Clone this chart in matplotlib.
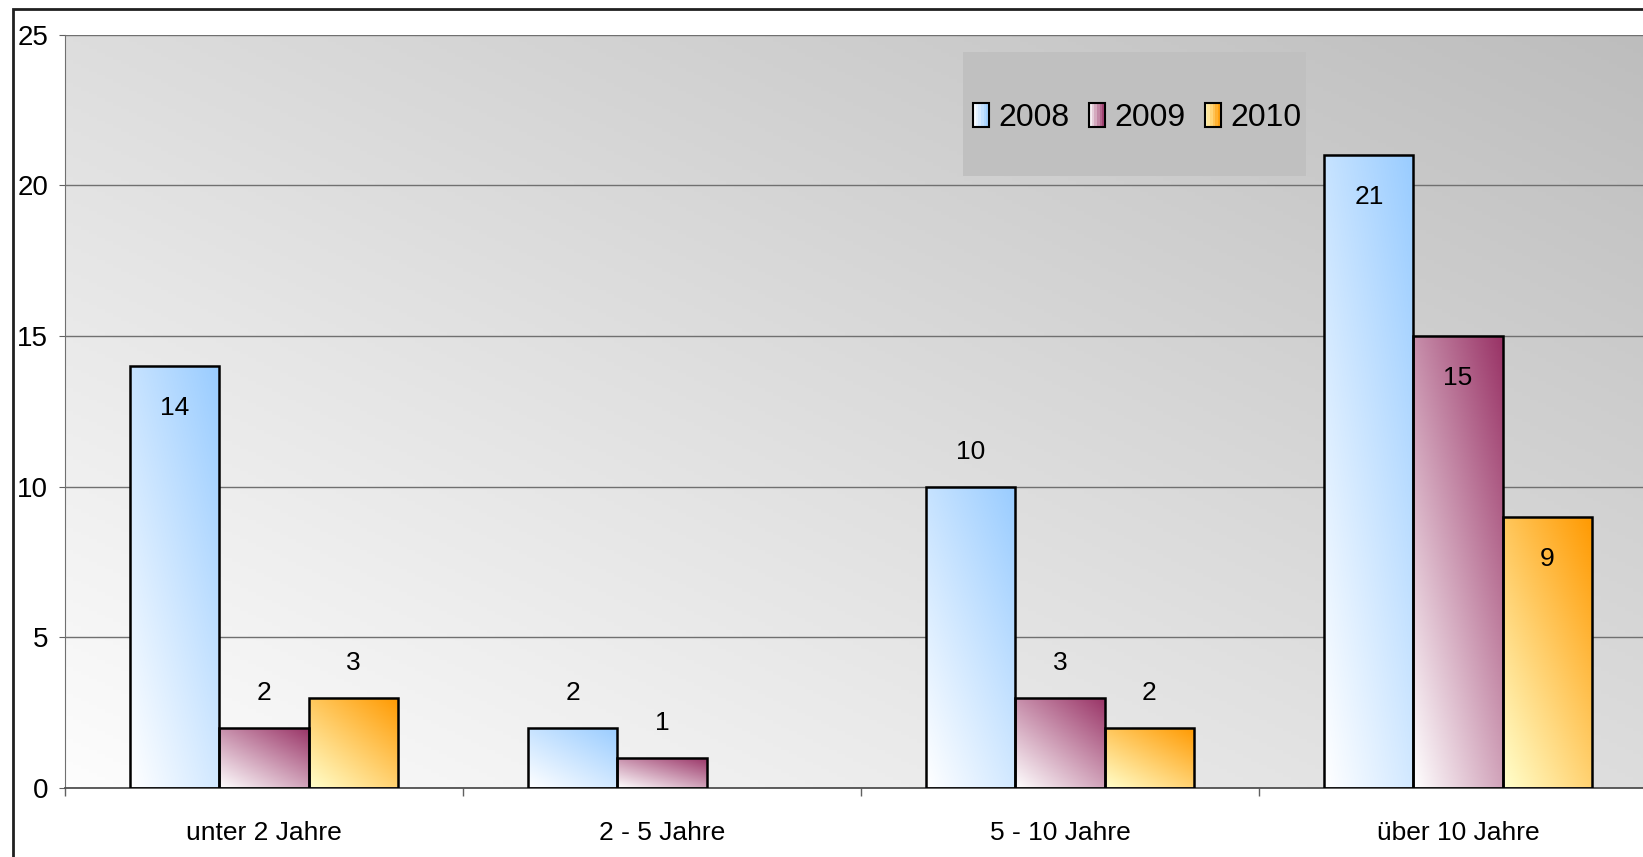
import numpy as np
import matplotlib
matplotlib.use("Agg")
import matplotlib.pyplot as plt
from matplotlib.colors import LinearSegmentedColormap
from matplotlib.patches import Rectangle
from matplotlib.legend_handler import HandlerBase

plt.rcParams['font.family'] = ['Liberation Sans', 'DejaVu Sans']

# Data
categories = ['unter 2 Jahre', '2 - 5 Jahre', '5 - 10 Jahre', 'über 10 Jahre']
years = ['2008', '2009', '2010']
values_2008 = [14, 2, 10, 21]
values_2009 = [2, 1, 3, 15]
values_2010 = [3, 0, 2, 9]
inside_labels = {14, 21, 15, 9}

series = [values_2008, values_2009, values_2010]
light = ['#ffffff', '#ffffff', '#ffffcc']
dark = ['#99ccff', '#993366', '#ff9900']
cmaps = [LinearSegmentedColormap.from_list(f'g{i}', [light[i], dark[i]]) for i in range(3)]

fig = plt.figure(figsize=(16.43, 8.57), dpi=100)
ax = fig.add_axes([65 / 1643, 1 - 788 / 857, 1592 / 1643, (788 - 34.6) / 857])

# grey background, light bottom-left to darker top-right
u, v = np.meshgrid(np.linspace(0, 1, 200), np.linspace(0, 1, 200))
bg = LinearSegmentedColormap.from_list('bg', ['#fdfdfd', '#bdbdbd'])
ax.imshow((u + v) / 2, cmap=bg, origin='lower', extent=[0, 1, 0, 1],
          transform=ax.transAxes, aspect='auto', zorder=0)

width = 0.224
x = np.arange(len(categories))
for i, vals in enumerate(series):
    bars = ax.bar(x + (i - 1) * width, vals, width, facecolor='none',
                  edgecolor='black', linewidth=1.8, zorder=3)
    for b, val in zip(bars, vals):
        if val == 0:
            b.set_linewidth(0)
            continue
        x0, w, h = b.get_x(), b.get_width(), b.get_height()
        g = 0.45 * u + 0.55 * v
        im = ax.imshow(g, cmap=cmaps[i], origin='lower', aspect='auto',
                       extent=[x0, x0 + w, 0, h], zorder=2, vmin=0, vmax=1)
        im.set_clip_path(b)
        cx = x0 + w / 2
        if val in inside_labels:
            ax.text(cx, val - 1.4, str(val), ha='center', va='center', fontsize=19, zorder=4)
        else:
            ax.text(cx, val + 1.15, str(val), ha='center', va='center', fontsize=19, zorder=4)

ax.set_xlim(-0.5, 3.5)
ax.set_ylim(0, 25)
ax.set_yticks([0, 5, 10, 15, 20, 25])
ax.yaxis.grid(True, color='#707070', linewidth=1)
ax.set_xticks([-0.5, 0.5, 1.5, 2.5, 3.5])
ax.set_xticklabels([])
ax.set_xticks(x, minor=True)
ax.set_xticklabels(categories, minor=True)
ax.tick_params(axis='x', which='major', length=6, color='#606060', width=1)
ax.tick_params(axis='x', which='minor', length=0, pad=24, labelsize=19)
ax.tick_params(axis='y', length=4, color='#606060', pad=8, labelsize=20)
for s in ['top', 'right']:
    ax.spines[s].set_visible(False)
ax.spines['left'].set_color('#707070')
ax.spines['bottom'].set_color('#505050')
ax.spines['bottom'].set_linewidth(1.3)
for gl in ax.get_ygridlines():
    gl.set_zorder(1)


class GradientHandler(HandlerBase):
    def __init__(self, cmap):
        super().__init__()
        self.cmap = cmap

    def create_artists(self, legend, orig_handle, xdescent, ydescent, width, height, fontsize, trans):
        arts = []
        n = 6
        for k in range(n):
            arts.append(Rectangle((-xdescent + k * width / n, -ydescent), width / n, height,
                                  facecolor=self.cmap((k + 0.5) / n), edgecolor='none', transform=trans))
        arts.append(Rectangle((-xdescent, -ydescent), width, height, facecolor='none',
                              edgecolor='black', linewidth=1.5, transform=trans))
        return arts


# legend box
ax.add_patch(Rectangle((0.564, 0.812), 0.2155, 0.165, transform=ax.transAxes,
                       facecolor='#c0c0c0', edgecolor='none', zorder=5))
handles = [Rectangle((0, 0), 1, 1) for _ in years]
leg = ax.legend(handles, years, loc='center', bbox_to_anchor=(0.6735, 0.889),
                ncol=3, frameon=False, fontsize=23, handlelength=0.5, handleheight=0.75,
                handletextpad=0.3, columnspacing=0.6,
                handler_map={h: GradientHandler(cmaps[i]) for i, h in enumerate(handles)})
leg.set_zorder(6)

# outer chart border
fig.patches.append(Rectangle((13 / 1643, -0.1), 1.2, 1 - 9 / 857 + 0.1, transform=fig.transFigure,
                             facecolor='none', edgecolor='#202020', linewidth=2, zorder=10))

fig.savefig('out.png', dpi=100)
